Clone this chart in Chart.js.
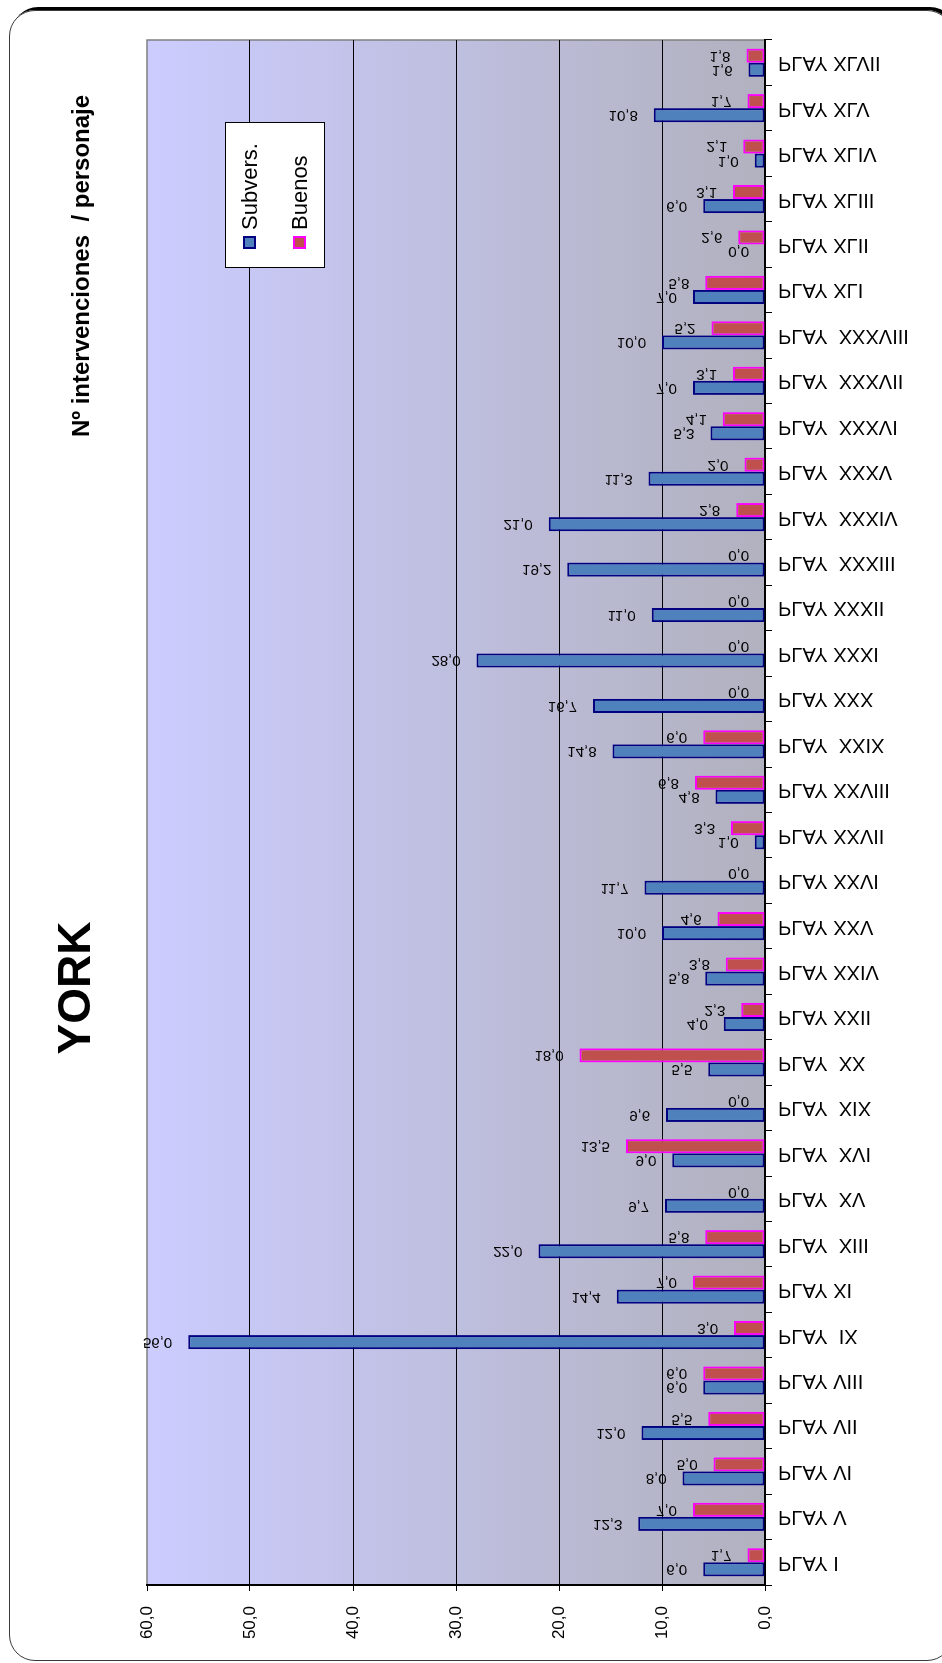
<!DOCTYPE html>
<html>
<head>
<meta charset="utf-8">
<script src="https://cdn.jsdelivr.net/npm/chart.js@4.4.1/dist/chart.umd.min.js"></script>
<style>
  html, body { margin: 0; padding: 0; background: #fff; }
  body { width: 942px; height: 1663px; position: relative; overflow: hidden; }
  /* rounded chart frame with the dark shadow along the top and right */
  .frame {
    position: absolute; left: 9px; top: 10px; width: 942px; height: 1649px;
    border: 1px solid #3a3a3a; border-radius: 26px; box-shadow: 3px -3px 0 #000;
  }
  /* the chart is laid out landscape, then turned a quarter to the left */
  .stage {
    position: absolute; left: 0; top: 0; width: 1663px; height: 942px;
    transform-origin: 0 0; transform: translate(0, 1663px) rotate(-90deg);
  }
  canvas { display: block; }
</style>
</head>
<body>
<div class="frame"></div>
<div class="stage"><canvas id="chart" width="1663" height="942"></canvas></div>
<script>
const categories = ['PLAY I', 'PLAY V', 'PLAY VI', 'PLAY VII', 'PLAY VIII', 'PLAY  IX', 'PLAY XI',
  'PLAY  XIII', 'PLAY  XV', 'PLAY  XVI', 'PLAY  XIX', 'PLAY  XX', 'PLAY XXII', 'PLAY XXIV',
  'PLAY XXV', 'PLAY XXVI', 'PLAY XXVII', 'PLAY XXVIII', 'PLAY  XXIX', 'PLAY XXX', 'PLAY XXXI',
  'PLAY XXXII', 'PLAY  XXXIII', 'PLAY  XXXIV', 'PLAY  XXXV', 'PLAY  XXXVI', 'PLAY  XXXVII',
  'PLAY  XXXVIII', 'PLAY XLI', 'PLAY XLII', 'PLAY XLIII', 'PLAY XLIV', 'PLAY XLV', 'PLAY XLVII'];

const subvers = [6.0, 12.3, 8.0, 12.0, 6.0, 56.0, 14.4, 22.0, 9.7, 9.0, 9.6, 5.5, 4.0, 5.8,
  10.0, 11.7, 1.0, 4.8, 14.8, 16.7, 28.0, 11.0, 19.2, 21.0, 11.3, 5.3, 7.0, 10.0, 7.0, 0.0,
  6.0, 1.0, 10.8, 1.6];

const buenos = [1.7, 7.0, 5.0, 5.5, 6.0, 3.0, 7.0, 5.8, 0.0, 13.5, 0.0, 18.0, 2.3, 3.8,
  4.6, 0.0, 3.3, 6.8, 6.0, 0.0, 0.0, 0.0, 0.0, 2.8, 2.0, 4.1, 3.1, 5.2, 5.8, 2.6,
  3.1, 2.1, 1.7, 1.8];

const valueTicks = [0, 10, 20, 30, 40, 50, 60];

const seriesNames = ['Subvers.', 'Buenos'];
const chartTitle = 'YORK';
const chartSubtitle = 'Nº intervenciones  / personaje';

const FONT = "'Liberation Sans', Arial, sans-serif";
const fmt = v => v.toFixed(1).replace('.', ',');

Chart.defaults.font.family = FONT;
Chart.defaults.color = '#000';

// plot area fill: lavender fading to grey, grey frame on the far sides
const plotBackground = {
  id: 'plotBackground',
  beforeDraw(chart) {
    const { ctx, chartArea: a } = chart;
    ctx.save();
    const g = ctx.createLinearGradient(0, a.top, 0, a.bottom);
    g.addColorStop(0, '#ccccff');
    g.addColorStop(1, '#b1b1bf');
    ctx.fillStyle = g;
    ctx.fillRect(a.left, a.top, a.right - a.left, a.bottom - a.top);
    ctx.strokeStyle = '#808080';
    ctx.lineWidth = 1.5;
    ctx.strokeRect(a.left, a.top, a.right - a.left, a.bottom - a.top);
    ctx.restore();
  }
};

// mirrored text (transposed), which reads flipped once the page is turned
const flippedText = (ctx, text, x, y, align) => {
  ctx.save();
  ctx.translate(x, y);
  ctx.transform(0, 1, 1, 0, 0, 0);
  ctx.textAlign = align;
  ctx.textBaseline = 'middle';
  ctx.fillText(text, 0, 0);
  ctx.restore();
};

const labelsAndTitles = {
  id: 'labelsAndTitles',
  afterDatasetsDraw(chart) {
    const { ctx } = chart;
    ctx.save();
    ctx.fillStyle = '#000';

    // value labels past the end of each bar
    ctx.font = `15px ${FONT}`;
    chart.data.datasets.forEach((ds, di) => {
      chart.getDatasetMeta(di).data.forEach((bar, i) => {
        flippedText(ctx, fmt(ds.data[i]), bar.x, bar.y - 16, 'right');
      });
    });

    // category names below the axis
    const xs = chart.scales.x;
    ctx.font = `20px ${FONT}`;
    categories.forEach((name, i) => {
      flippedText(ctx, name, xs.getPixelForValue(i), xs.top + 13, 'left');
    });

    // titles
    ctx.textAlign = 'center';
    ctx.textBaseline = 'alphabetic';
    ctx.font = `bold 46px ${FONT}`;
    ctx.fillText(chartTitle, 675, 90);
    ctx.font = `bold 24px ${FONT}`;
    ctx.fillText(chartSubtitle, 1397, 89);

    // legend box
    const lx = 1395, ly = 225, lw = 145, lh = 99;
    ctx.fillStyle = '#fff';
    ctx.fillRect(lx, ly, lw, lh);
    ctx.strokeStyle = '#000';
    ctx.lineWidth = 1;
    ctx.strokeRect(lx + 0.5, ly + 0.5, lw, lh);
    ctx.font = `22px ${FONT}`;
    ctx.textAlign = 'left';
    chart.data.datasets.forEach((ds, di) => {
      const y = 243 + di * 50;
      ctx.fillStyle = ds.backgroundColor;
      ctx.fillRect(1414, y, 13, 13);
      ctx.strokeStyle = ds.borderColor;
      ctx.lineWidth = 2;
      ctx.strokeRect(1415, y + 1, 11, 11);
      ctx.fillStyle = '#000';
      ctx.fillText(ds.label, 1433, y + 14);
    });
    ctx.restore();
  }
};

new Chart(document.getElementById('chart'), {
  type: 'bar',
  data: {
    labels: categories,
    datasets: [{
      label: seriesNames[0],
      data: subvers,
      backgroundColor: '#4f81bd',
      borderColor: '#000080',
      borderWidth: 2,
      borderSkipped: false,
      categoryPercentage: 0.62,
      barPercentage: 1.0
    }, {
      label: seriesNames[1],
      data: buenos,
      backgroundColor: '#c0504d',
      borderColor: '#ff00ff',
      borderWidth: 2,
      borderSkipped: false,
      categoryPercentage: 0.62,
      barPercentage: 1.0
    }]
  },
  options: {
    responsive: false,
    animation: false,
    devicePixelRatio: 1,
    layout: { padding: { top: 147, right: 40, left: 0, bottom: 0 } },
    plugins: {
      legend: { display: false },
      tooltip: { enabled: false }
    },
    scales: {
      x: {
        grid: {
          offset: true,
          drawOnChartArea: false,
          drawTicks: true,
          tickLength: 7,
          tickColor: '#000'
        },
        border: { display: true, color: '#000', width: 2 },
        ticks: { display: false },
        afterFit(scale) { scale.height = 177; }
      },
      y: {
        min: valueTicks[0],
        max: valueTicks[valueTicks.length - 1],
        afterBuildTicks(scale) { scale.ticks = valueTicks.map(v => ({ value: v })); },
        ticks: {
          callback: v => fmt(v),
          font: { size: 17 },
          color: '#000',
          padding: 15
        },
        grid: {
          color: ctx => (ctx.tick && (ctx.tick.value === 0 || ctx.tick.value === 60)) ? 'rgba(0,0,0,0)' : '#000',
          lineWidth: 1,
          drawTicks: true,
          tickLength: 6,
          tickColor: '#000'
        },
        border: { display: true, color: '#000', width: 2 },
        afterFit(scale) { scale.width = 78; }
      }
    }
  },
  plugins: [plotBackground, labelsAndTitles]
});
</script>
</body>
</html>
